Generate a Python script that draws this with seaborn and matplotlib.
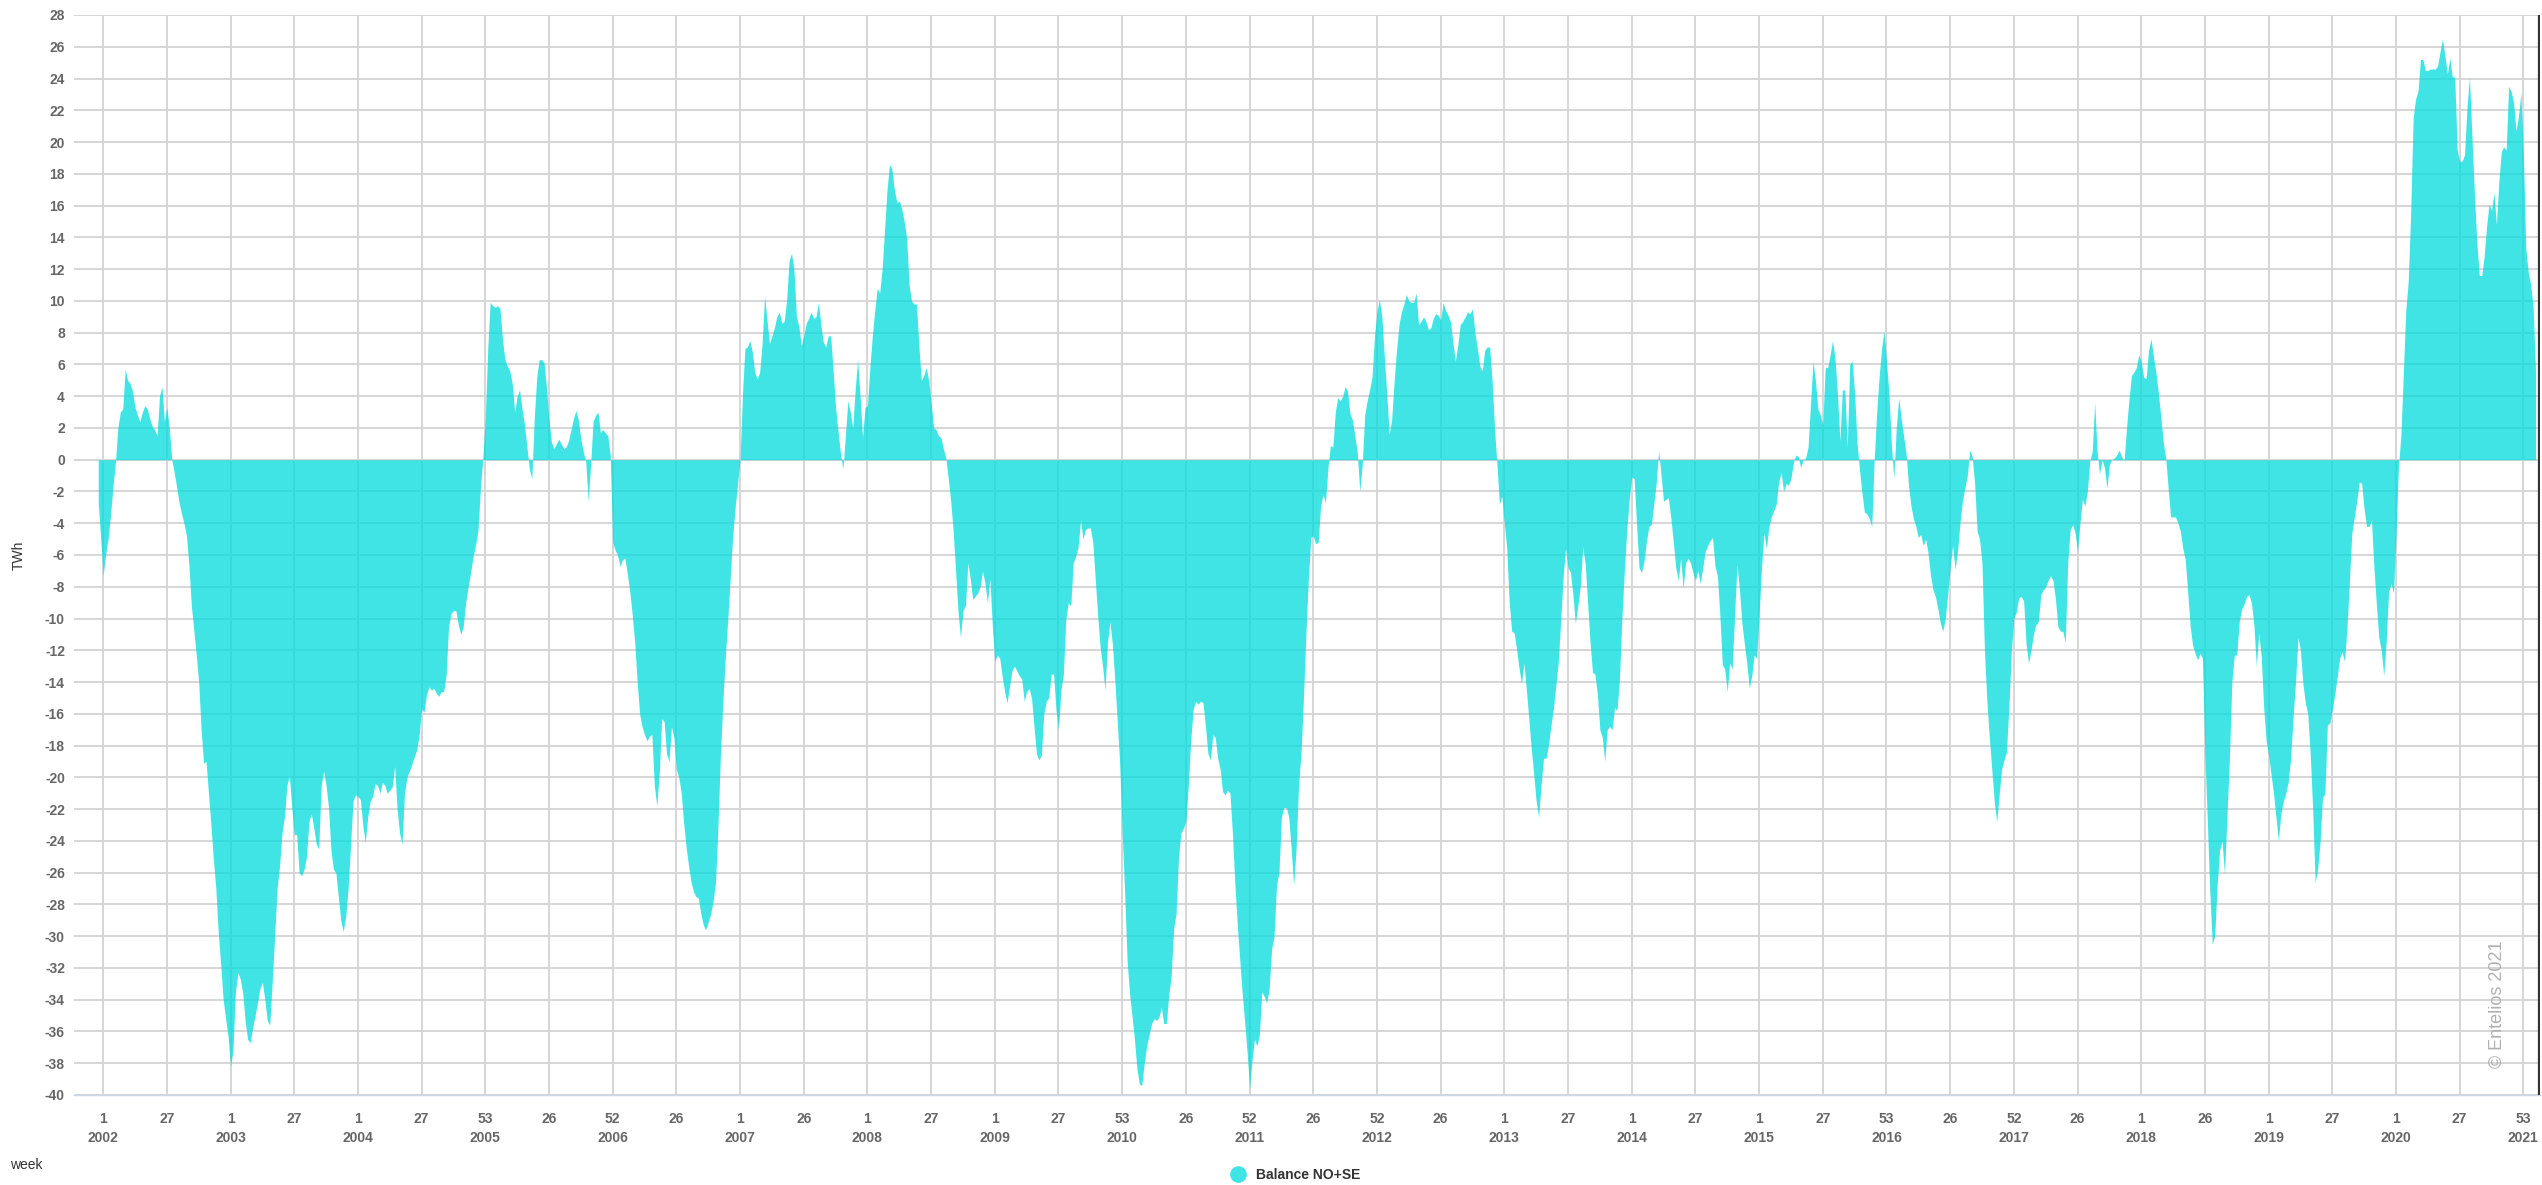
import numpy as np
import pandas as pd
import matplotlib
matplotlib.use("Agg")
import matplotlib.pyplot as plt
from matplotlib.lines import Line2D
import seaborn as sns

# weekly hydro balance NO+SE (TWh), first point two weeks before 2002 wk1
bal_2002_2003 = [
    -2.7, -5, -7.3, -6, -5, -3.5, -1.7, -0.2, 2, 3,
    3.2, 5.7, 5, 4.8, 4.3, 3.3, 2.8, 2.4, 3, 3.4,
    3.2, 2.6, 2.1, 1.9, 1.5, 4.0, 4.6, 2.4, 3.3, 2,
    0, -0.8, -1.7, -2.7, -3.4, -4, -4.8, -6.6, -9.2, -10.7,
    -12.3, -14, -17, -19.1, -19, -21, -23, -25.2, -27, -29.8,
    -31.8, -34, -35.2, -36.3, -38.2, -37.2, -33.5, -32.3, -32.7, -33.6,
    -35.4, -36.5, -36.7, -35.8, -35, -34.2, -33.3, -32.9, -34, -35.3,
    -35.6, -32.9, -30, -27, -25.6, -23.5, -22.5, -20.5, -19.9, -21.9,
    -23.6, -23.6, -26, -26.2, -25.8, -25, -22.8, -22.3, -23.2, -24.2,
    -24.5, -20.5, -19.6, -20.5, -21.9, -24.6, -25.8, -26, -27.5, -29,
]
bal_2004_2005 = [
    -29.7, -28.8, -27, -24.3, -21.5, -21.1, -21.2, -21.4, -23, -24.1,
    -22.5, -21.5, -21.2, -20.4, -20.5, -21, -20.3, -20.5, -21, -20.8,
    -20.6, -19.3, -22, -23.5, -24.2, -21, -20, -19.6, -19.2, -18.7,
    -18.3, -17.3, -15.7, -15.9, -14.8, -14.3, -14.5, -14.4, -14.7, -14.9,
    -14.6, -14.6, -13.6, -10.5, -9.7, -9.5, -9.5, -10.4, -11, -10.5,
    -9, -8, -7.1, -6.1, -5.4, -4.5, -1.8, 0.1, 2.6, 7,
    9.9, 9.7, 9.6, 9.7, 9.5, 7.6, 6.3, 5.9, 5.6, 4.8,
    3, 4, 4.4, 3.2, 2.2, 0.8, -0.6, -1.2, 2.6, 5.2,
    6.3, 6.3, 6.1, 4.5, 2.5, 1.1, 0.7, 1, 1.3, 1,
    0.7, 0.8, 1.2, 1.9, 2.6, 3.1, 2.5, 1.3, 0.5, -0.1,
]
bal_2006_2007 = [
    -2.6, -0.3, 2.4, 2.8, 3, 1.7, 1.9, 1.7, 1.5, 0.3,
    -5.2, -5.7, -6, -6.7, -6.3, -6.2, -7.2, -8.3, -9.8, -11.5,
    -14, -16, -16.8, -17.3, -17.7, -17.4, -17.3, -20.5, -21.8, -19.8,
    -16.3, -16.5, -18.5, -19, -16.8, -17.5, -19.5, -20, -21, -22.9,
    -24.4, -25.6, -26.6, -27.2, -27.5, -27.6, -28.6, -29.3, -29.6, -29.1,
    -28.6, -27.8, -26.6, -23, -18.5, -15.2, -12.4, -10, -7.4, -4.8,
    -3, -1.5, 0, 4.2, 7, 7.1, 7.5, 6.8, 5.5, 5.1,
    5.5, 7.3, 10.3, 8.8, 7.3, 7.8, 8.3, 9, 9.3, 8.6,
    8.7, 10, 12.5, 13, 12, 9, 8.4, 7.2, 7.8, 8.6,
    8.9, 9.3, 8.9, 9, 9.9, 8.5, 7.4, 7.1, 7.8, 7.8,
]
bal_2008_2009 = [
    5.6, 3.3, 1.8, 0.4, -0.6, 1.5, 3.7, 3.0, 2, 4.4,
    6.3, 4, 1.4, 3.3, 3.4, 5.8, 7.8, 9.4, 10.8, 10.5,
    12, 14.5, 17, 18.6, 18.3, 17, 16.2, 16.3, 15.8, 15,
    14, 11, 10, 9.8, 9.8, 7.2, 5, 5.3, 5.8, 5,
    3.6, 2, 1.9, 1.5, 1.4, 0.7, 0.1, -1.2, -2.6, -4.5,
    -7, -9.6, -11.2, -9.5, -9.2, -6.5, -7.5, -8.8, -8.6, -8.4,
    -8, -7, -7.8, -9, -7.5, -10.5, -12.7, -12.3, -12.5, -13.6,
    -14.6, -15.3, -14.3, -13.3, -13, -13.3, -13.6, -13.8, -15.2, -14.6,
    -14.4, -15, -16.8, -18.5, -18.9, -18.6, -16, -15.2, -15, -13.5,
    -13.5, -15.8, -17, -14.5, -13.5, -10, -9, -9.2, -6.5, -6.1,
]
bal_2010_2011 = [
    -5.5, -3.8, -5, -4.4, -4.3, -4.3, -5.2, -7.5, -9.8, -11.8,
    -13, -14.5, -11.5, -10.2, -11.6, -13.9, -16.5, -19.2, -23.5, -27.2,
    -31.5, -33.6, -35, -36.5, -38.3, -39.3, -39.4, -38, -36.9, -36.2,
    -35.5, -35.2, -35.3, -35.1, -34.5, -35.5, -35.5, -33.7, -32.5, -29.5,
    -28.6, -25, -23.5, -23.2, -22.8, -20.5, -17.6, -15.7, -15.2, -15.4,
    -15.2, -15.3, -16.8, -18.5, -18.9, -17.3, -17.5, -18.8, -19.5, -20.9,
    -21.1, -20.8, -21, -23.5, -26.7, -29.3, -31.5, -33.6, -35.4, -37.3,
    -39.6, -37.8, -36.5, -36.9, -36.2, -33.5, -33.8, -34.2, -33.3, -30.8,
    -30, -26.8, -26, -22.5, -21.9, -21.9, -22.5, -24.5, -26.8, -24.5,
    -20.5, -18.5, -15, -11, -7.5, -4.9, -4.8, -5.3, -5.2, -2.9,
]
bal_2012_2013 = [
    -2.2, -2.7, -0.5, 0.9, 0.8, 3, 3.9, 3.7, 4, 4.6,
    4.3, 2.9, 2.5, 1.5, 0.4, -2, -0.3, 2.8, 3.7, 4.4,
    5.2, 7.8, 9.3, 10.1, 9, 6.5, 4.2, 1.6, 2.5, 4.9,
    6.9, 8.5, 9.3, 9.8, 10.4, 10, 9.9, 9.9, 10.5, 8.5,
    8.7, 9, 8.7, 8.2, 8.3, 8.9, 9.2, 9.1, 8.8, 9.9,
    9.4, 9.1, 8.7, 7.4, 6.2, 7.2, 8.5, 8.7, 9, 9.3,
    9.2, 9.5, 8, 7, 5.9, 5.6, 6.9, 7.1, 7.1, 5,
    2, -0.3, -2.8, -2.3, -4, -5.6, -9, -10.8, -10.9, -11.9,
    -13.1, -14.1, -12.8, -14.5, -16.3, -18.2, -19.8, -21.5, -22.5, -20.5,
    -18.8, -18.8, -18, -16.8, -15.7, -14.3, -12.8, -10.2, -7.4, -5.6,
]
bal_2014_2015 = [
    -6.8, -7.1, -8.5, -10.3, -9.2, -8, -5.5, -6.5, -9, -11.5,
    -13.4, -13.5, -14.8, -17, -17.5, -19, -17, -16.8, -17, -15.6,
    -15.8, -13.8, -10, -7, -4.4, -2.5, -1.1, -1.2, -4.1, -6.8,
    -7.1, -6.4, -5.2, -4.2, -4.1, -2.8, -1.5, 0.6, -1, -2.6,
    -2.5, -2.4, -3.7, -5.2, -6.8, -7.6, -6.2, -8.1, -6.5, -6.2,
    -6.5, -7.1, -7.6, -7, -7.8, -6.8, -5.8, -5.4, -5.1, -4.9,
    -6.7, -7.3, -9.8, -12.9, -13.2, -14.6, -12.8, -13.2, -9.8, -6.6,
    -8.2, -10.3, -11.6, -12.8, -14.4, -13.6, -12.3, -12.5, -9.8, -6.8,
    -4.6, -5.6, -4.2, -3.6, -3.2, -2.8, -1.4, -0.8, -2, -1.5,
    -1.6, -1.2, -0.2, 0.3, 0.2, -0.5, 0, 0.1, 0.8, 3.5,
]
bal_2016_2017 = [
    6.2, 5, 3.2, 2.8, 2.2, 5.8, 5.8, 6.6, 7.5, 6.4,
    4.1, 1.2, 4.4, 4.4, 0.8, 6, 6.2, 4.2, 1, -0.6,
    -2.1, -3.3, -3.4, -3.7, -4.2, 0, 2.9, 5.2, 7, 8.1,
    6.2, 4.2, 1, -1.2, 2, 3.9, 2.6, 1.5, 0.4, -1.6,
    -2.9, -3.7, -4.2, -4.9, -4.7, -5.4, -5, -5.9, -7.3, -8.2,
    -8.6, -9.4, -10.3, -10.8, -10, -8.5, -6.8, -5.4, -6.9, -5.8,
    -4, -2.6, -1.8, -1, 0.6, 0.2, -1.5, -4.5, -5, -6.5,
    -12, -15.2, -17.5, -19.5, -21.5, -22.8, -21.1, -19.5, -18.9, -18.4,
    -15.5, -12, -10, -9.6, -8.7, -8.6, -8.9, -11.6, -12.8, -12,
    -11, -10.4, -10.2, -8.5, -8.2, -8, -7.6, -7.3, -7.6, -8.8,
]
bal_2018_2019 = [
    -10.5, -10.8, -10.8, -11.5, -6.5, -4.4, -4.1, -4.6, -5.8, -4,
    -2.5, -2.9, -2, -0.1, 0.5, 3.6, 0.5, -0.9, 0, -0.5,
    -1.8, -0.3, 0, 0.1, 0.3, 0.6, 0.2, -0.1, 2, 3.8,
    5.3, 5.5, 5.8, 6.6, 6.2, 5.2, 5.1, 6.9, 7.6, 6.5,
    5.5, 4.2, 2.7, 1.1, 0.1, -1.8, -3.6, -3.6, -3.6, -4,
    -4.5, -5.6, -6.3, -8.4, -10.5, -11.7, -12.2, -12.6, -12.2, -12.5,
    -18.6, -22.8, -27.2, -30.5, -30, -26.8, -24.6, -24, -26.1, -22.5,
    -18.8, -14, -12.3, -12.3, -10.2, -9.4, -9.1, -8.6, -8.5, -9,
    -10.4, -13, -10.9, -12.4, -15.6, -17.7, -18.6, -19.8, -21, -22.5,
    -24, -22.3, -21.5, -21, -20.3, -18.8, -16.2, -14, -11.2, -12,
]
bal_2020_2021 = [
    -14.1, -15.3, -16, -18.5, -22, -26.6, -25.8, -24.1, -21.3, -21,
    -16.7, -16.6, -15.7, -14.8, -13.7, -12.5, -12.1, -12.7, -10.6, -7.6,
    -4.6, -3.6, -2.6, -1.4, -1.5, -3.1, -4.2, -4.2, -3.8, -6.8,
    -9.1, -11.2, -12, -13.6, -11.5, -8.3, -7.8, -8.4, -4.8, -0.5,
    1.5, 5.4, 9.4, 11.2, 15.5, 21.5, 22.7, 23.2, 25.2, 25.2,
    24.5, 24.5, 24.6, 24.6, 24.6, 24.8, 25.7, 26.5, 25.4, 24.3,
    25.3, 24.1, 24.1, 19.5, 18.8, 18.8, 19.2, 22.2, 24.1, 20.4,
    16.8, 13.7, 11.6, 11.6, 12.8, 14.7, 16.1, 15.7, 16.8, 14.8,
    17.5, 19.4, 19.7, 19.5, 23.5, 23.2, 22.5, 20.7, 21.6, 23.1,
    19.3, 13.3, 11.8, 11, 9.6, 5.5,
]

# category axis labels: one tick every 26 weeks, year under every second one
tick_weeks = ["1", "27", "1", "27", "1", "27", "53", "26", "52", "26",
              "1", "26", "1", "27", "1", "27", "53", "26", "52", "26",
              "52", "26", "1", "27", "1", "27", "1", "27", "53", "26",
              "52", "26", "1", "26", "1", "27", "1", "27", "53"]
tick_years = ["2002", "2003", "2004", "2005", "2006", "2007", "2008", "2009",
              "2010", "2011", "2012", "2013", "2014", "2015", "2016", "2017",
              "2018", "2019", "2020", "2021"]

balance = (bal_2002_2003 + bal_2004_2005 + bal_2006_2007 + bal_2008_2009 +
           bal_2010_2011 + bal_2012_2013 + bal_2014_2015 + bal_2016_2017 +
           bal_2018_2019 + bal_2020_2021)
df = pd.DataFrame({"idx": np.arange(len(balance)), "balance": balance})

sns.set_style("white")
plt.rcParams["font.family"] = ["Liberation Sans", "DejaVu Sans"]

W, H = 2542, 1185
fig = plt.figure(figsize=(W / 100, H / 100), dpi=100)
ax = fig.add_axes([74 / W, 1 - 1095 / H, (2540 - 74) / W, 1080 / H])

area_col = "#00dcdc"
sns.lineplot(data=df, x="idx", y="balance", ax=ax, lw=0, legend=False)
ax.fill_between(df["idx"], 0, df["balance"], color=area_col, alpha=0.75, lw=0, zorder=2)

ax.set_xlim(-9.9, 996.8)
ax.set_ylim(-40, 28)

tick_pos = [2 + 26 * k for k in range(len(tick_weeks))]
labels = []
for k, w in enumerate(tick_weeks):
    if k % 2 == 0:
        labels.append(w + "\n" + tick_years[k // 2])
    else:
        labels.append(w)
ax.set_xticks(tick_pos)
ax.set_xticklabels(labels, fontsize=10, fontweight="bold", color="#666666", linespacing=1.45)
ax.set_yticks(range(-40, 29, 2))
ax.set_yticklabels([str(v) for v in range(-40, 29, 2)], fontsize=10,
                   fontweight="bold", color="#666666")
ax.tick_params(axis="x", length=9.5, width=1, color="#ccd6eb", pad=3, direction="out")
ax.tick_params(axis="y", length=0, pad=6.5)

ax.grid(True, color="#d6d6d6", lw=1.4)
ax.set_axisbelow(True)
for s in ["top", "right", "left"]:
    ax.spines[s].set_visible(False)
ax.spines["bottom"].set_color("#ccd6eb")
ax.spines["bottom"].set_linewidth(1)
ax.axvline(996.4, color="#333333", lw=1.6, zorder=3)

ax.set_xlabel("")
ax.set_ylabel("TWh", fontsize=10, color="#333333", labelpad=14)

fig.text(10 / W, 1 - 1165 / H, "week", fontsize=10, color="#333333", va="center", ha="left")
fig.text(2497 / W, 1 - 1004 / H, "\u00a9 Entelios 2021", rotation=90, fontsize=13,
         color="#b0b0b0", ha="center", va="center")

handle = Line2D([], [], ls="", marker="o", markersize=12, markerfacecolor=area_col,
                markeredgecolor="none", alpha=0.75)
fig.legend([handle], ["Balance NO+SE"], loc="center", bbox_to_anchor=(1292 / W, 1 - 1175 / H),
           frameon=False, prop={"weight": "bold", "size": 10}, handletextpad=0.3,
           labelcolor="#333333")

fig.savefig("out.png", dpi=100)
